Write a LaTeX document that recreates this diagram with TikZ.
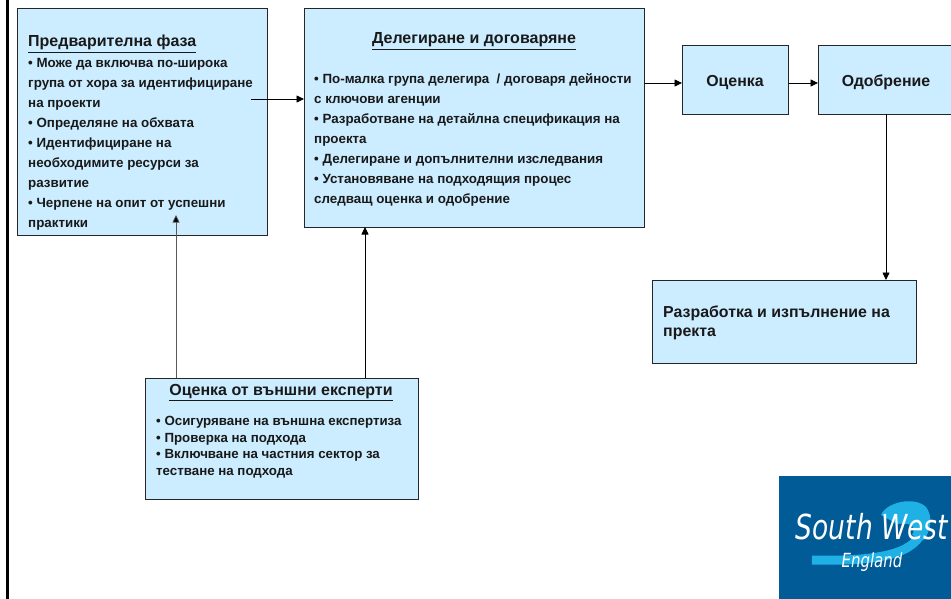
\documentclass[tikz,border=0pt]{standalone}
\usepackage{fontspec}
\setmainfont{Liberation Sans}
\newfontfamily\logofont{DejaVu Sans}
\usetikzlibrary{arrows.meta,calc}
\definecolor{boxfill}{HTML}{CCECFF}
\definecolor{logoblue}{HTML}{005B96}
\definecolor{logocyan}{HTML}{1FB0E6}
\tikzset{
  flow/.style={draw=black!85,line width=0.7pt,fill=boxfill,inner sep=0pt,anchor=north west},
  bodytext/.style={anchor=north west,inner sep=0pt,align=left,font=\fontsize{13.35}{20}\selectfont\bfseries,text=black!90},
  smalltext/.style={anchor=north west,inner sep=0pt,align=left,font=\fontsize{13.3}{16.4}\selectfont\bfseries,text=black!90},
  headtext/.style={inner sep=0pt,font=\fontsize{16}{18}\selectfont\bfseries,text=black!90},
  midtext/.style={inner sep=0pt,align=left,font=\fontsize{15.9}{19}\selectfont\bfseries,text=black!90},
  link/.style={draw=black,line width=0.8pt,-{Triangle[length=7.5pt,width=7pt]}},
  lightlink/.style={draw=black!65,line width=0.7pt,-{Triangle[length=7.5pt,width=7pt,fill=black]}},
}
\newcommand{\shadowbox}[5]{% name, x, y, w, h
  \fill[black!40] (#2+1.2,#3+1.2) rectangle (#2+#4+1.2,#3+#5+1.2);
  \node[flow,minimum width=#4 pt,minimum height=#5 pt] (#1) at (#2,#3) {};
}
\begin{document}
\begin{tikzpicture}[x=1pt,y=-1pt]
\useasboundingbox (0,0) rectangle (951,599);
\fill[white] (0,0) rectangle (951,599);
\fill[black] (5.5,0) rectangle (8.5,599);

\shadowbox{prelim}{17}{8}{250}{227}
\shadowbox{deleg}{304}{8}{340}{219}
\shadowbox{ocenka}{682}{45}{106}{69}
\shadowbox{odobr}{818}{45}{140}{69}
\shadowbox{razr}{652}{280}{264}{83}
\shadowbox{expert}{145}{378}{273}{121}

\node[headtext,anchor=base west] (prelimh) at (28,47) {\underline{Предварителна фаза}};
\node[bodytext] (prelimt) at (28,58.5) {• Може да включва по-широка\\група от хора за идентифициране\\на проекти\\• Определяне на обхвата\\• Идентифициране на\\необходимите ресурси за\\развитие\\• Черпене на опит от успешни\\практики};

\node[headtext,anchor=base] (delegh) at (474,44) {\underline{Делегиране и договаряне}};
\node[bodytext] (delegt) at (314,73.5) {• По-малка група делегира \ / договаря дейности\\с ключови агенции\\• Разработване на детайлна спецификация на\\проекта\\• Делегиране и допълнителни изследвания\\• Установяване на подходящия процес\\следващ оценка и одобрение};

\node[midtext,anchor=base] (ocenkat) at (735,87) {Оценка};
\node[midtext,anchor=base] (odobrt) at (886,87) {Одобрение};
\node[midtext,anchor=north west] (razrt) at (663,306) {Разработка и изпълнение на\\пректа};

\node[headtext,anchor=base] (experth) at (281,395) {\underline{Оценка от външни експерти}};
\node[smalltext] (expertt) at (156,416.5) {• Осигуряване на външна експертиза\\• Проверка на подхода\\• Включване на частния сектор за\\тестване на подхода};

\coordinate (pstart) at (251,99);
\coordinate (etip) at (176,215);
\coordinate (rowa) at (0,83);
\draw[link] (pstart) -- (pstart -| deleg.west);
\draw[link] (deleg.east |- rowa) -- (ocenka.west |- rowa);
\draw[link] (ocenka.east |- rowa) -- (odobr.west |- rowa);
\draw[link] (886,114) -- (886,280);
\draw[lightlink] (etip |- expert.north) -- (etip);
\draw[link] (365,378) -- (365,227);

% logo
\fill[logoblue] (779,476) rectangle (951,599);
\draw[logocyan,line width=9pt] (812,560) .. controls (850,561) and (885,559) .. (905,549) .. controls (918,542) and (925,532) .. (924,520);
\fill[logocyan] (881,515) .. controls (886,502) and (915,496) .. (926,507) .. controls (933,516) and (931,530) .. (924,540) -- (912,535) .. controls (916,528) and (914,522) .. (897,524) -- cycle;
\node[inner sep=0pt,text=white,font=\logofont\fontsize{26.5}{26}\selectfont\itshape,yscale=1.3] (logo1) at (872,527) {South West};
\node[inner sep=0pt,text=white,font=\logofont\fontsize{15}{15}\selectfont\itshape,yscale=1.3] (logo2) at (872,562) {England};
\end{tikzpicture}
\end{document}
